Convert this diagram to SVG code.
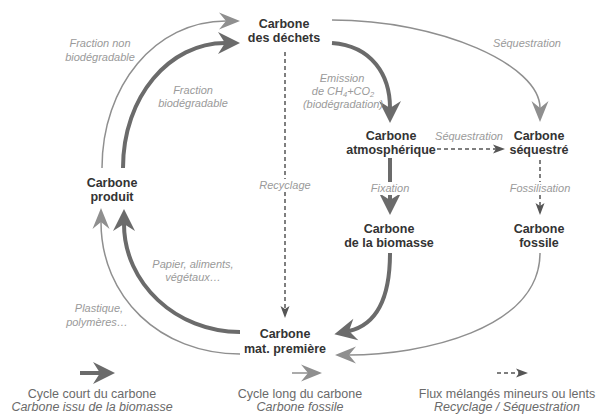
<svg xmlns="http://www.w3.org/2000/svg" width="601" height="414" viewBox="0 0 601 414">
<style>
.node{font-family:"Liberation Sans",Arial,sans-serif;font-size:12.5px;font-weight:bold;fill:#333;text-anchor:middle}
.lbl{font-family:"Liberation Sans",Arial,sans-serif;font-size:11px;font-style:italic;fill:#9a9a9a;text-anchor:middle}
.leg{font-family:"Liberation Sans",Arial,sans-serif;font-size:12.5px;fill:#6a6a6a;text-anchor:middle}
.legi{font-style:italic}
.thick{fill:none;stroke:#6b6b6b;stroke-width:4}
.thin{fill:none;stroke:#8f8f8f;stroke-width:1.5}
.dash{fill:none;stroke:#555;stroke-width:1.5;stroke-dasharray:4 3}
.bg{fill:#fff}
</style>
<defs>
<marker id="mThick" markerUnits="userSpaceOnUse" viewBox="-8 -12 24 24" refX="0" refY="0" markerWidth="24" markerHeight="24" orient="auto">
<path d="M15,0 L-7,-11 L0,0 L-7,11 Z" fill="#6b6b6b"/>
</marker>
<marker id="mThin" markerUnits="userSpaceOnUse" viewBox="-8 -9 23 18" refX="0" refY="0" markerWidth="23" markerHeight="18" orient="auto">
<path d="M14,0 L-7,-8.5 L0,0 L-7,8.5 Z" fill="#8f8f8f"/>
</marker>
<marker id="mDash" markerUnits="userSpaceOnUse" viewBox="-5 -5 14 10" refX="0" refY="0" markerWidth="14" markerHeight="10" orient="auto">
<path d="M8,0 L-4,-4.5 L-1,0 L-4,4.5 Z" fill="#555"/>
</marker>
</defs>
<rect width="601" height="414" fill="#fff"/>
<g id="connectors">
<path class="thin" d="M102,168 C102,86 155,21 226,21" marker-end="url(#mThin)"/>
<path class="thick" d="M123,168 C123,96 170,43 225,43" marker-end="url(#mThick)"/>
<path class="thin" d="M332,20 C440,20 540,65 540,108" marker-end="url(#mThin)"/>
<path class="thick" d="M332,43 C372,46 390,75 390,108" marker-end="url(#mThick)"/>
<path class="dash" d="M285,52 V310" marker-end="url(#mDash)"/>
<path class="dash" d="M437,149 H497" marker-end="url(#mDash)"/>
<path class="thick" d="M390,158 V200" marker-end="url(#mThick)"/>
<path class="dash" d="M540,160 V207" marker-end="url(#mDash)"/>
<path class="thick" d="M390,253 C390,300 375,325 349,331" marker-end="url(#mThick)"/>
<path class="thin" d="M540,253 C540,330 420,355 349,355" marker-end="url(#mThin)"/>
<path class="thick" d="M240,332 C176,332 124,283 124,224" marker-end="url(#mThick)"/>
<path class="thin" d="M240,354 C160,354 101,297 101,222" marker-end="url(#mThin)"/>
<rect class="bg" x="256" y="179" width="58" height="13"/>
<rect class="bg" x="368" y="182" width="44" height="13"/>
<rect class="bg" x="505" y="182" width="70" height="13"/>
<text class="lbl" x="100" y="47">Fraction non</text>
<text class="lbl" x="100" y="61">biodégradable</text>
<text class="lbl" x="193" y="94">Fraction</text>
<text class="lbl" x="193" y="107">biodégradable</text>
<text class="lbl" x="527" y="47">Séquestration</text>
<text class="lbl" x="342" y="82">Emission</text>
<text class="lbl" x="343" y="95">de CH<tspan font-size="7.5" dy="2">4</tspan><tspan dy="-2">+CO</tspan><tspan font-size="7.5" dy="2">2</tspan></text>
<text class="lbl" x="343" y="108">(biodégradation)</text>
<text class="lbl" x="469" y="140">Séquestration</text>
<text class="lbl" x="285" y="189">Recyclage</text>
<text class="lbl" x="390" y="192">Fixation</text>
<text class="lbl" x="540" y="192">Fossilisation</text>
<text class="lbl" x="193" y="268">Papier, aliments,</text>
<text class="lbl" x="193" y="281">végétaux…</text>
<text class="lbl" x="99" y="312">Plastique,</text>
<text class="lbl" x="97" y="326">polymères…</text>
</g>
<g id="n-dechets">
<text class="node" x="284" y="28">Carbone</text>
<text class="node" x="284" y="42">des déchets</text>
</g>
<g id="n-atmo">
<text class="node" x="391" y="140">Carbone</text>
<text class="node" x="391" y="154">atmosphérique</text>
</g>
<g id="n-seq">
<text class="node" x="539" y="140">Carbone</text>
<text class="node" x="539" y="154">séquestré</text>
</g>
<g id="n-biomasse">
<text class="node" x="389" y="233">Carbone</text>
<text class="node" x="389" y="247">de la biomasse</text>
</g>
<g id="n-fossile">
<text class="node" x="539" y="233">Carbone</text>
<text class="node" x="539" y="247">fossile</text>
</g>
<g id="n-produit">
<text class="node" x="112" y="187">Carbone</text>
<text class="node" x="112" y="201">produit</text>
</g>
<g id="n-mat">
<text class="node" x="285" y="338">Carbone</text>
<text class="node" x="285" y="353">mat. première</text>
</g>
<g id="legend">
<path class="thick" d="M80,373 H100" marker-end="url(#mThick)"/>
<path class="thin" d="M292,373 H308" marker-end="url(#mThin)"/>
<path d="M497,373 H520" fill="none" stroke="#555" stroke-width="1.5" stroke-dasharray="4 3" marker-end="url(#mDash)"/>
<text class="leg" x="92" y="398">Cycle court du carbone</text>
<text class="leg legi" x="92" y="411">Carbone issu de la biomasse</text>
<text class="leg" x="300" y="398">Cycle long du carbone</text>
<text class="leg legi" x="300" y="411">Carbone fossile</text>
<text class="leg" x="507" y="398">Flux mélangés mineurs ou lents</text>
<text class="leg legi" x="507" y="411">Recyclage / Séquestration</text>
</g>
</svg>
